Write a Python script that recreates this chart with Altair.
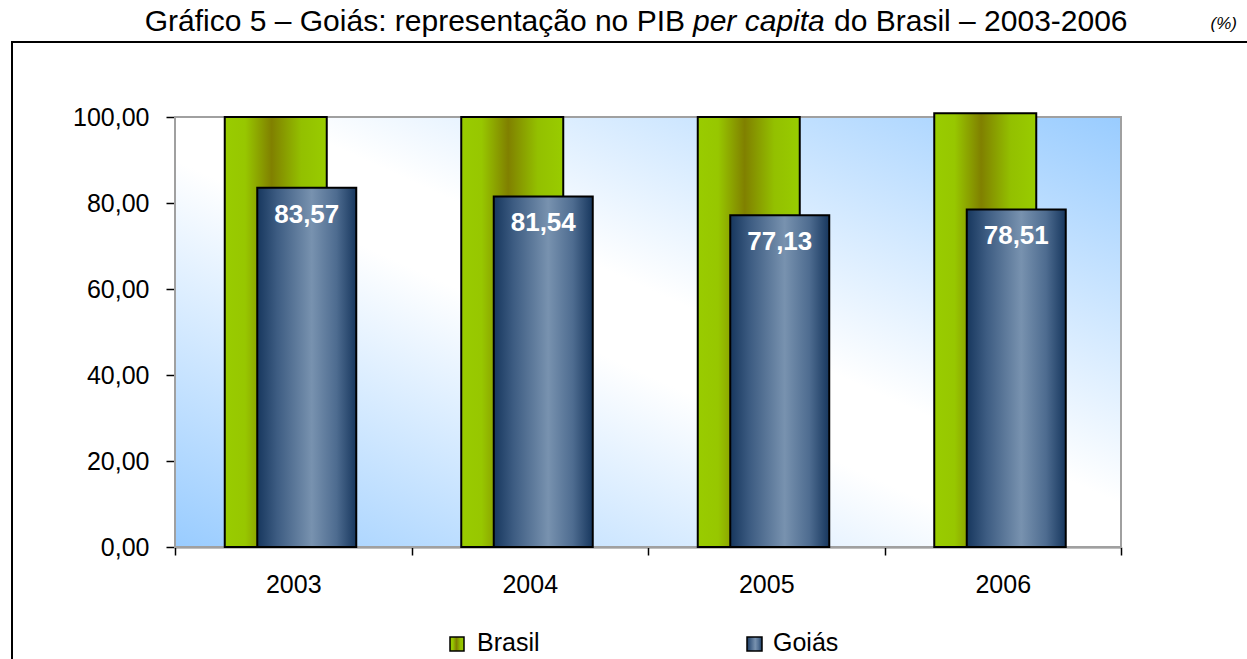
import altair as alt
import pandas as pd

# ---------------- data ----------------
years = ["2003", "2004", "2005", "2006"]
brasil = [100.00, 100.00, 100.00, 100.90]
goias = [83.57, 81.54, 77.13, 78.51]
series = ["Brasil", "Goiás"]
y_ticks = [0, 20, 40, 60, 80, 100]
title_parts = ["Gráfico 5 – Goiás: representação no PIB", "per capita", "do Brasil – 2003-2006"]
unit_label = "(%)"

W, H = 946, 430
FONT = "Liberation Sans"

df_b = pd.DataFrame({"ano": years, "valor": brasil})
df_g = pd.DataFrame({"ano": years, "valor": goias,
                     "rotulo": [f"{v:.2f}".replace(".", ",") for v in goias]})
one = pd.DataFrame({"k": [0]})


def grad(stops, x1=0, y1=0, x2=1, y2=0):
    return alt.LinearGradient(
        gradient="linear", x1=x1, y1=y1, x2=x2, y2=y2,
        stops=[alt.GradientStop(color=c, offset=o) for o, c in stops])


green = grad([(0, "#99CC00"), (0.2, "#97C700"), (0.46, "#808000"),
              (0.75, "#93C000"), (1, "#99CC00")])
navy = grad([(0, "#17375E"), (0.2, "#3D5C82"), (0.55, "#7892AF"),
             (0.8, "#4E6C90"), (1, "#17375E")])
bg = grad([(0, "#99CCFF"), (0.45, "#FFFFFF"), (0.55, "#FFFFFF"), (1, "#99CCFF")],
          x1=0, y1=1, x2=1, y2=0)

xscale = alt.Scale(type="band", paddingInner=0, paddingOuter=0, domain=years)
yscale = alt.Scale(domain=[0, 100], nice=False)

x_enc = alt.X("ano:N", scale=xscale, sort=years,
              axis=alt.Axis(title=None, labelAngle=0, tickBand="extent",
                            labelFont=FONT, labelFontSize=25, labelColor="black",
                            domainColor="black", domainWidth=1.5,
                            tickColor="black", tickWidth=1.5, tickSize=8,
                            labelPadding=17, grid=False))
y_enc = alt.Y("valor:Q", scale=yscale,
              axis=alt.Axis(title=None, values=y_ticks, grid=False,
                            labelExpr="replace(format(datum.value, '.2f'), '.', ',')",
                            labelFont=FONT, labelFontSize=25, labelColor="black",
                            domainColor="black", domainWidth=1.5,
                            tickColor="black", tickWidth=1.5, tickSize=9,
                            labelPadding=17))

frame = alt.Chart(one).mark_rect(fill=None, stroke="black", strokeWidth=2).encode(
    x=alt.value(-163), x2=alt.value(1085), y=alt.value(-75), y2=alt.value(560))

background = alt.Chart(one).mark_rect(fill=bg, stroke="#A0A0A0", strokeWidth=2).encode(
    x=alt.value(0), x2=alt.value(W), y=alt.value(0), y2=alt.value(H))

bars_b = alt.Chart(df_b).mark_bar(width=102, xOffset=-17.5, fill=green,
                                   stroke="black", strokeWidth=2).encode(x=x_enc, y=y_enc)
bars_g = alt.Chart(df_g).mark_bar(width=99, xOffset=13.5, fill=navy,
                                   stroke="black", strokeWidth=2).encode(x=x_enc, y=y_enc)
labels = alt.Chart(df_g).mark_text(font=FONT, fontSize=26, fontWeight="bold",
                                   color="white", baseline="alphabetic",
                                   xOffset=13.5, dy=35).encode(
    x=alt.X("ano:N", scale=xscale, sort=years),
    y=alt.Y("valor:Q", scale=yscale), text="rotulo:N")

TY = -86
TS = 30
t1 = alt.Chart(one).mark_text(text=title_parts[0], font=FONT, fontSize=TS, align="right",
                              baseline="alphabetic", color="black").encode(
    x=alt.value(510), y=alt.value(TY))
t2 = alt.Chart(one).mark_text(text=title_parts[1], font=FONT, fontSize=TS, fontStyle="italic",
                              align="left", baseline="alphabetic", color="black").encode(
    x=alt.value(518), y=alt.value(TY))
t3 = alt.Chart(one).mark_text(text=title_parts[2], font=FONT, fontSize=TS, align="left",
                              baseline="alphabetic", color="black").encode(
    x=alt.value(659), y=alt.value(TY))
unit = alt.Chart(one).mark_text(text=unit_label, font=FONT, fontSize=17, fontStyle="italic",
                                align="right", baseline="alphabetic", color="black").encode(
    x=alt.value(1062), y=alt.value(-88))

LY = 534
leg_b_sym = alt.Chart(one).mark_rect(fill=green, stroke="black", strokeWidth=1.5).encode(
    x=alt.value(275), x2=alt.value(289), y=alt.value(LY - 14), y2=alt.value(LY))
leg_b_txt = alt.Chart(one).mark_text(text=series[0], font=FONT, fontSize=25, align="left",
                                     baseline="alphabetic", color="black").encode(
    x=alt.value(302), y=alt.value(LY))
leg_g_sym = alt.Chart(one).mark_rect(fill=navy, stroke="black", strokeWidth=1.5).encode(
    x=alt.value(572), x2=alt.value(587), y=alt.value(LY - 14), y2=alt.value(LY))
leg_g_txt = alt.Chart(one).mark_text(text=series[1], font=FONT, fontSize=25, align="left",
                                     baseline="alphabetic", color="black").encode(
    x=alt.value(598), y=alt.value(LY))

chart = alt.layer(
    frame, background, bars_b, bars_g, labels, t1, t2, t3, unit,
    leg_b_sym, leg_b_txt, leg_g_sym, leg_g_txt
).properties(
    width=W, height=H,
    autosize=alt.AutoSizeParams(type="none"),
    padding={"left": 175, "top": 117, "right": 126, "bottom": 112},
    background="white",
).configure_view(stroke=None)

chart.save("out.html", embed_options={"renderer": "svg", "actions": False})
